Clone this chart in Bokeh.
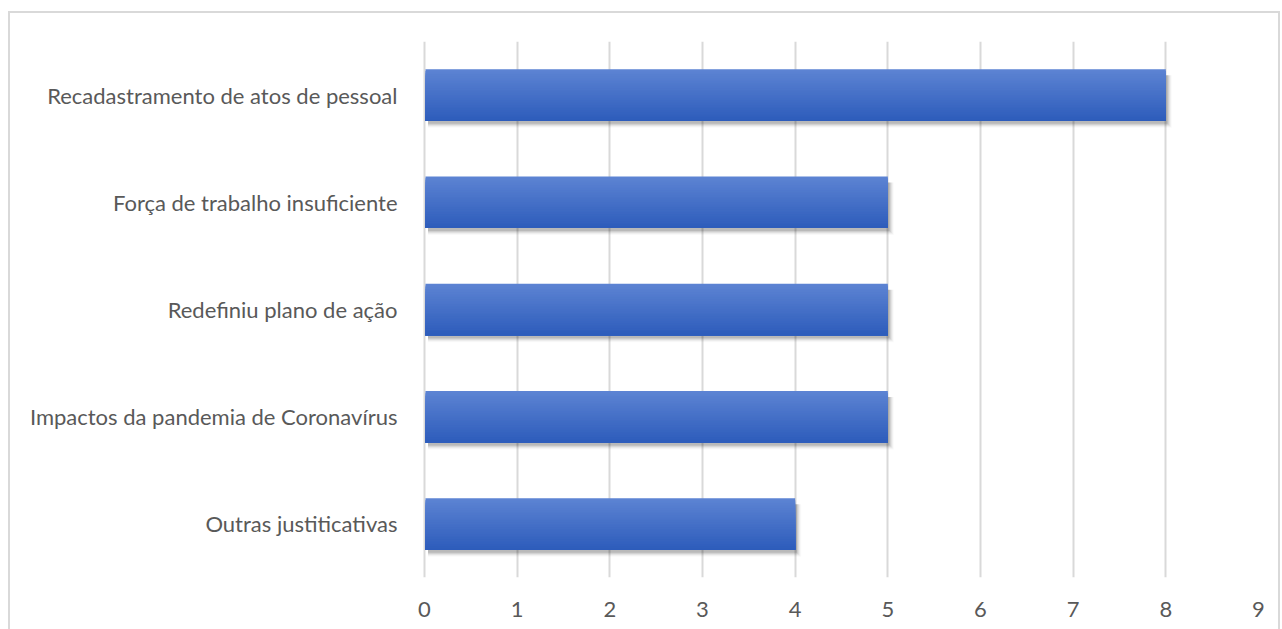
from bokeh.plotting import figure
from bokeh.models import Range1d, FixedTicker
from bokeh.embed import file_html
from bokeh.resources import INLINE

categories = ["Recadastramento de atos de pessoal", "Força de trabalho insuficiente",
              "Redefiniu plano de ação", "Impactos da pandemia de Coronavírus",
              "Outras justiticativas"]
values = [8, 5, 5, 5, 4]
x_ticks = [0, 1, 2, 3, 4, 5, 6, 7, 8, 9]

n = len(categories)
ypos = [n - 1 - i for i in range(n)]  # top category first

px_x = 834 / 9.0
px_y = 536 / 5.0
x_pad = 2 / px_x

p = figure(width=1268, height=616, output_backend="svg", toolbar_location=None,
           x_range=Range1d(-x_pad, 9), y_range=Range1d(-0.5, n - 0.5),
           frame_width=836, frame_height=536,
           min_border_left=412, min_border_right=20, min_border_top=28, min_border_bottom=52)
p.margin = (11, 0, 0, 8)
p.styles = {"border-top": "2px solid #d9d9d9", "border-left": "2px solid #d9d9d9",
            "border-right": "2px solid #d9d9d9"}
p.outline_line_color = None
p.background_fill_color = "white"
p.border_fill_color = "white"

# grid
p.xgrid.ticker = FixedTicker(ticks=x_ticks)
p.xgrid.grid_line_color = "#d9d9d9"
p.xgrid.grid_line_width = 2
p.ygrid.grid_line_color = None

# axes
p.xaxis.ticker = FixedTicker(ticks=x_ticks)
p.xaxis.axis_line_color = None
p.xaxis.major_tick_line_color = None
p.xaxis.minor_tick_line_color = None
p.xaxis.major_label_standoff = 18
p.xaxis.major_label_text_font = "Lato"
p.xaxis.major_label_text_font_size = "22px"
p.xaxis.major_label_text_color = "#595959"

p.yaxis.ticker = FixedTicker(ticks=ypos)
p.yaxis.major_label_overrides = {y: c for y, c in zip(ypos, categories)}
p.yaxis.axis_line_color = None
p.yaxis.major_tick_line_color = None
p.yaxis.minor_tick_line_color = None
p.yaxis.major_label_standoff = 19
p.yaxis.major_label_text_font = "Lato"
p.yaxis.major_label_text_font_size = "22px"
p.yaxis.major_label_text_color = "#595959"

bar_h = 0.48

# soft shadow below / right of each bar
for k, a in enumerate([0.10, 0.08, 0.06, 0.04, 0.025]):
    dx = 2 / px_x
    ex = k / px_x
    dy = 3 / px_y
    ey = k / px_y
    p.quad(left=[dx + 1.5 / px_x] * n, right=[v + dx + ex for v in values],
           bottom=[y - bar_h / 2 - dy - ey for y in ypos],
           top=[y + bar_h / 2 - 6 / px_y for y in ypos],
           fill_color="black", fill_alpha=a, line_color=None)

# gradient bars (each slice from its top down to bar bottom; later slices cover lower part)
top_c = (0x5d, 0x84, 0xd3)
bot_c = (0x2d, 0x5c, 0xbb)
steps = 30
for s in range(steps):
    t = (s + 0.5) / steps
    r = int(round(top_c[0] + (bot_c[0] - top_c[0]) * t))
    g = int(round(top_c[1] + (bot_c[1] - top_c[1]) * t))
    b = int(round(top_c[2] + (bot_c[2] - top_c[2]) * t))
    col = "#%02x%02x%02x" % (r, g, b)
    p.quad(left=[1 / px_x] * n, right=values,
           top=[y + bar_h / 2 - bar_h * s / steps for y in ypos],
           bottom=[y - bar_h / 2 for y in ypos],
           fill_color=col, line_color=None)

open("out.html", "w").write(file_html(p, INLINE))
